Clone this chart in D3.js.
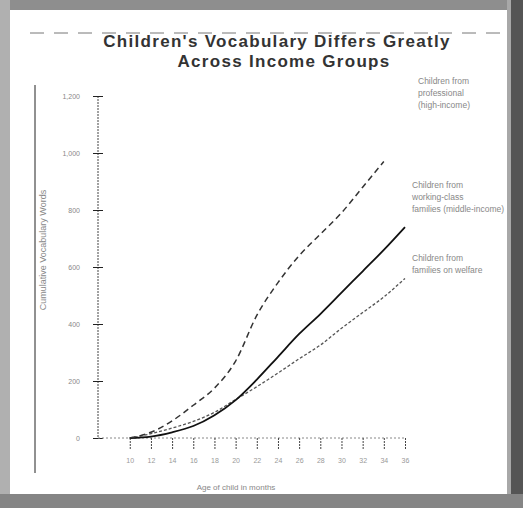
<!DOCTYPE html>
<html>
<head>
<meta charset="utf-8">
<script src="https://cdn.jsdelivr.net/npm/d3@7"></script>
<style>
  body { margin: 0; background: #fff; }
  text { font-family: "Liberation Sans", Arial, sans-serif; }
</style>
</head>
<body>
<div id="chart"></div>
<script>
// Age of child, in months
var months = [10, 12, 14, 16, 18, 20, 22, 24, 26, 28, 30, 32, 34, 36];

// Cumulative vocabulary words
var professional = [0, 20, 60, 115, 175, 270, 430, 545, 640, 715, 790, 880, 970];
var workingClass = [0, 5, 20, 42, 80, 133, 205, 285, 365, 435, 510, 585, 660, 740];
var welfare      = [0, 15, 35, 58, 90, 135, 180, 228, 278, 326, 385, 440, 495, 560];

var yTicks = [0, 200, 400, 600, 800, 1000, 1200];
var xTicks = [10, 12, 14, 16, 18, 20, 22, 24, 26, 28, 30, 32, 34, 36];

var width = 523, height = 508;

var svg = d3.select("#chart").append("svg")
    .attr("width", width)
    .attr("height", height);

// scanned-page frame
svg.append("rect").attr("width", width).attr("height", height).attr("fill", "#fff");
svg.append("rect").attr("x", 0).attr("y", 0).attr("width", width).attr("height", 10).attr("fill", "#8e8e8e");
svg.append("rect").attr("x", 0).attr("y", 0).attr("width", 10).attr("height", height).attr("fill", "#b0b0b0");
svg.append("rect").attr("x", 507).attr("y", 0).attr("width", 16).attr("height", height).attr("fill", "#555");
svg.append("rect").attr("x", 507).attr("y", 0).attr("width", 4).attr("height", height).attr("fill", "#a8a8a8");
svg.append("rect").attr("x", 0).attr("y", 494).attr("width", width).attr("height", 14).attr("fill", "#858585");

// inner box lines
svg.append("line").attr("x1", 30).attr("x2", 505).attr("y1", 33).attr("y2", 33)
    .attr("stroke", "#777").attr("stroke-width", 1).attr("stroke-dasharray", "14,10");
svg.append("line").attr("x1", 35).attr("x2", 35).attr("y1", 85).attr("y2", 473)
    .attr("stroke", "#222").attr("stroke-width", 1);

// scales
var x = d3.scaleLinear().domain([7, 36]).range([98, 405]);
var y = d3.scaleLinear().domain([0, 1200]).range([438, 96]);

// title
svg.append("text").attr("x", 277).attr("y", 47).attr("text-anchor", "middle")
    .attr("font-size", 17).attr("font-weight", "bold").attr("fill", "#333")
    .attr("letter-spacing", 1.3)
    .text("Children's Vocabulary Differs Greatly");
svg.append("text").attr("x", 284).attr("y", 67).attr("text-anchor", "middle")
    .attr("font-size", 17).attr("font-weight", "bold").attr("fill", "#333")
    .attr("letter-spacing", 1.3)
    .text("Across Income Groups");

// y axis
svg.append("line").attr("x1", x(7)).attr("x2", x(7)).attr("y1", y(1200)).attr("y2", y(0))
    .attr("stroke", "#444").attr("stroke-width", 1).attr("stroke-dasharray", "2,1");

var yAxis = d3.axisLeft(y).tickValues(yTicks).tickSize(5).tickSizeOuter(0);
var gy = svg.append("g").attr("transform", "translate(" + x(7) + ",0)").call(yAxis);
gy.select(".domain").remove();
gy.selectAll(".tick line").attr("stroke", "#222").attr("x2", 5).attr("x1", -5);
gy.selectAll(".tick text").attr("font-size", 7).attr("fill", "#888").attr("x", -18);

svg.append("text")
    .attr("transform", "translate(46,250) rotate(-90)")
    .attr("text-anchor", "middle").attr("font-size", 9).attr("fill", "#888")
    .text("Cumulative Vocabulary Words");

// x axis
svg.append("line").attr("x1", x(7)).attr("x2", x(36)).attr("y1", y(0)).attr("y2", y(0))
    .attr("stroke", "#888").attr("stroke-width", 1).attr("stroke-dasharray", "2,2");

var xAxis = d3.axisBottom(x).tickValues(xTicks).tickSize(12).tickSizeOuter(0);
var gx = svg.append("g").attr("transform", "translate(0," + y(0) + ")").call(xAxis);
gx.select(".domain").remove();
gx.selectAll(".tick line").attr("stroke", "#444").attr("stroke-dasharray", "2,1");
gx.selectAll(".tick text").attr("font-size", 7).attr("fill", "#999").attr("dy", "1.4em");

svg.append("text").attr("x", 236).attr("y", 490).attr("text-anchor", "middle")
    .attr("font-size", 8).attr("fill", "#888")
    .text("Age of child in months");

// lines
var line = d3.line()
    .x(function(d, i) { return x(months[i]); })
    .y(function(d) { return y(d); })
    .curve(d3.curveMonotoneX);

svg.append("path").datum(welfare).attr("d", line)
    .attr("fill", "none").attr("stroke", "#555").attr("stroke-width", 1.3)
    .attr("stroke-dasharray", "3,2");
svg.append("path").datum(workingClass).attr("d", line)
    .attr("fill", "none").attr("stroke", "#111").attr("stroke-width", 1.8);
svg.append("path").datum(professional).attr("d", line)
    .attr("fill", "none").attr("stroke", "#333").attr("stroke-width", 1.5)
    .attr("stroke-dasharray", "6,4");

// series labels
function label(lines, x0, y0) {
    var t = svg.append("text").attr("x", x0).attr("y", y0)
        .attr("font-size", 8.5).attr("fill", "#888");
    lines.forEach(function(s, i) {
        t.append("tspan").attr("x", x0).attr("dy", i === 0 ? 0 : 12).text(s);
    });
}
label(["Children from", "professional", "(high-income)"], 418, 84);
label(["Children from", "working-class", "families (middle-income)"], 412, 188);
label(["Children from", "families on welfare"], 412, 261);
</script>
</body>
</html>
